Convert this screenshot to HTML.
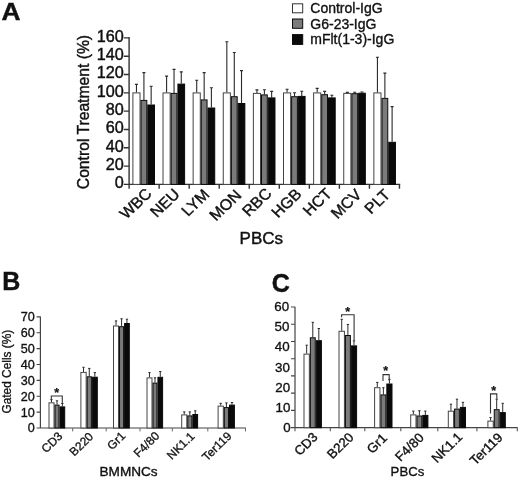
<!DOCTYPE html>
<html><head><meta charset="utf-8"><title>Figure</title>
<style>
html,body{margin:0;padding:0;background:#fff;}
svg{display:block;}
text{font-family:"Liberation Sans", Arial, Helvetica, sans-serif;fill:#111;}
</style></head>
<body>
<svg width="520" height="478" viewBox="0 0 520 478">
<rect width="520" height="478" fill="#fff"/>
<text transform="translate(1.60 20.40) scale(1.07 1)" font-size="24.6" text-anchor="start" font-weight="bold" stroke="#111" stroke-width="0.44">A</text>
<text transform="translate(2.20 289.60)" font-size="25" text-anchor="start" font-weight="bold" stroke="#111" stroke-width="0.45">B</text>
<text transform="translate(271.70 291.80)" font-size="25" text-anchor="start" font-weight="bold" stroke="#111" stroke-width="0.45">C</text>
<path d="M129.1 37.1V184.4H400.3M129.1 184.40h-5.4M129.1 166.09h-5.4M129.1 147.78h-5.4M129.1 129.47h-5.4M129.1 111.16h-5.4M129.1 92.85h-5.4M129.1 74.54h-5.4M129.1 56.23h-5.4M129.1 37.92h-5.4M129.10 184.4v4.4M159.14 184.4v4.4M189.18 184.4v4.4M219.22 184.4v4.4M249.26 184.4v4.4M279.30 184.4v4.4M309.34 184.4v4.4M339.38 184.4v4.4M369.42 184.4v4.4M399.46 184.4v4.4" stroke="#333" stroke-width="1.4" fill="none"/>
<text transform="translate(123.80 188.30) scale(1.04 1)" font-size="15.6" text-anchor="end" stroke="#111" stroke-width="0.41">0</text>
<text transform="translate(123.80 169.99) scale(1.04 1)" font-size="15.6" text-anchor="end" stroke="#111" stroke-width="0.41">20</text>
<text transform="translate(123.80 151.68) scale(1.04 1)" font-size="15.6" text-anchor="end" stroke="#111" stroke-width="0.41">40</text>
<text transform="translate(123.80 133.37) scale(1.04 1)" font-size="15.6" text-anchor="end" stroke="#111" stroke-width="0.41">60</text>
<text transform="translate(123.80 115.06) scale(1.04 1)" font-size="15.6" text-anchor="end" stroke="#111" stroke-width="0.41">80</text>
<text transform="translate(123.80 96.75) scale(1.04 1)" font-size="15.6" text-anchor="end" stroke="#111" stroke-width="0.41">100</text>
<text transform="translate(123.80 78.44) scale(1.04 1)" font-size="15.6" text-anchor="end" stroke="#111" stroke-width="0.41">120</text>
<text transform="translate(123.80 60.13) scale(1.04 1)" font-size="15.6" text-anchor="end" stroke="#111" stroke-width="0.41">140</text>
<text transform="translate(123.80 41.82) scale(1.04 1)" font-size="15.6" text-anchor="end" stroke="#111" stroke-width="0.41">160</text>
<text transform="translate(88.50 189.20) scale(1.03 1) rotate(-90)" font-size="15.7" text-anchor="start" stroke="#111" stroke-width="0.41">Control Treatment (%)</text>
<path d="M136.47 92.40V84.40M134.97 84.40H137.97" stroke="#2a2a2a" stroke-width="1.1" fill="none"/><rect x="132.90" y="92.90" width="7.13" height="91.50" fill="#fff" stroke="#444" stroke-width="1.0"/>
<path d="M143.92 99.90V72.60M142.42 72.60H145.42" stroke="#2a2a2a" stroke-width="1.1" fill="none"/><rect x="141.03" y="100.40" width="5.78" height="84.00" fill="#7b7b7b" stroke="#0a0a0a" stroke-width="1.0"/>
<path d="M151.15 104.50V86.20M149.65 86.20H152.65" stroke="#2a2a2a" stroke-width="1.1" fill="none"/><rect x="147.81" y="105.00" width="6.68" height="79.40" fill="#0a0a0a" stroke="#0a0a0a" stroke-width="1.0"/>
<text transform="translate(152.80 194.60) scale(1.05 1) rotate(-45)" font-size="15.3" text-anchor="end" stroke="#111" stroke-width="0.40">WBC</text>
<path d="M166.59 92.40V76.10M165.09 76.10H168.09" stroke="#2a2a2a" stroke-width="1.1" fill="none"/><rect x="163.02" y="92.90" width="7.13" height="91.50" fill="#fff" stroke="#444" stroke-width="1.0"/>
<path d="M174.04 92.90V69.40M172.54 69.40H175.54" stroke="#2a2a2a" stroke-width="1.1" fill="none"/><rect x="171.15" y="93.40" width="5.78" height="91.00" fill="#7b7b7b" stroke="#0a0a0a" stroke-width="1.0"/>
<path d="M181.27 83.60V71.90M179.77 71.90H182.77" stroke="#2a2a2a" stroke-width="1.1" fill="none"/><rect x="177.93" y="84.10" width="6.68" height="100.30" fill="#0a0a0a" stroke="#0a0a0a" stroke-width="1.0"/>
<text transform="translate(180.80 195.20) scale(1.05 1) rotate(-45)" font-size="15.3" text-anchor="end" stroke="#111" stroke-width="0.40">NEU</text>
<path d="M196.71 92.40V80.20M195.21 80.20H198.21" stroke="#2a2a2a" stroke-width="1.1" fill="none"/><rect x="193.14" y="92.90" width="7.13" height="91.50" fill="#fff" stroke="#444" stroke-width="1.0"/>
<path d="M204.16 99.40V72.60M202.66 72.60H205.66" stroke="#2a2a2a" stroke-width="1.1" fill="none"/><rect x="201.27" y="99.90" width="5.78" height="84.50" fill="#7b7b7b" stroke="#0a0a0a" stroke-width="1.0"/>
<path d="M211.39 107.50V87.70M209.89 87.70H212.89" stroke="#2a2a2a" stroke-width="1.1" fill="none"/><rect x="208.05" y="108.00" width="6.68" height="76.40" fill="#0a0a0a" stroke="#0a0a0a" stroke-width="1.0"/>
<text transform="translate(210.50 195.50) scale(1.05 1) rotate(-45)" font-size="15.3" text-anchor="end" stroke="#111" stroke-width="0.40">LYM</text>
<path d="M226.83 92.40V41.70M225.33 41.70H228.33" stroke="#2a2a2a" stroke-width="1.1" fill="none"/><rect x="223.26" y="92.90" width="7.13" height="91.50" fill="#fff" stroke="#444" stroke-width="1.0"/>
<path d="M234.28 96.20V52.50M232.78 52.50H235.78" stroke="#2a2a2a" stroke-width="1.1" fill="none"/><rect x="231.39" y="96.70" width="5.78" height="87.70" fill="#7b7b7b" stroke="#0a0a0a" stroke-width="1.0"/>
<path d="M241.51 103.00V70.60M240.01 70.60H243.01" stroke="#2a2a2a" stroke-width="1.1" fill="none"/><rect x="238.17" y="103.50" width="6.68" height="80.90" fill="#0a0a0a" stroke="#0a0a0a" stroke-width="1.0"/>
<text transform="translate(242.50 196.20) scale(1.05 1) rotate(-45)" font-size="15.3" text-anchor="end" stroke="#111" stroke-width="0.40">MON</text>
<path d="M256.95 92.90V89.90M255.45 89.90H258.45" stroke="#2a2a2a" stroke-width="1.1" fill="none"/><rect x="253.38" y="93.40" width="7.13" height="91.00" fill="#fff" stroke="#444" stroke-width="1.0"/>
<path d="M264.40 94.40V89.70M262.90 89.70H265.90" stroke="#2a2a2a" stroke-width="1.1" fill="none"/><rect x="261.51" y="94.90" width="5.78" height="89.50" fill="#7b7b7b" stroke="#0a0a0a" stroke-width="1.0"/>
<path d="M271.63 97.40V91.40M270.13 91.40H273.13" stroke="#2a2a2a" stroke-width="1.1" fill="none"/><rect x="268.29" y="97.90" width="6.68" height="86.50" fill="#0a0a0a" stroke="#0a0a0a" stroke-width="1.0"/>
<text transform="translate(272.60 194.50) scale(1.05 1) rotate(-45)" font-size="15.3" text-anchor="end" stroke="#111" stroke-width="0.40">RBC</text>
<path d="M287.07 92.40V89.20M285.57 89.20H288.57" stroke="#2a2a2a" stroke-width="1.1" fill="none"/><rect x="283.50" y="92.90" width="7.13" height="91.50" fill="#fff" stroke="#444" stroke-width="1.0"/>
<path d="M294.52 96.20V92.70M293.02 92.70H296.02" stroke="#2a2a2a" stroke-width="1.1" fill="none"/><rect x="291.63" y="96.70" width="5.78" height="87.70" fill="#7b7b7b" stroke="#0a0a0a" stroke-width="1.0"/>
<path d="M301.75 95.90V91.20M300.25 91.20H303.25" stroke="#2a2a2a" stroke-width="1.1" fill="none"/><rect x="298.41" y="96.40" width="6.68" height="88.00" fill="#0a0a0a" stroke="#0a0a0a" stroke-width="1.0"/>
<text transform="translate(302.70 195.10) scale(1.05 1) rotate(-45)" font-size="15.3" text-anchor="end" stroke="#111" stroke-width="0.40">HGB</text>
<path d="M317.19 92.40V88.40M315.69 88.40H318.69" stroke="#2a2a2a" stroke-width="1.1" fill="none"/><rect x="313.62" y="92.90" width="7.13" height="91.50" fill="#fff" stroke="#444" stroke-width="1.0"/>
<path d="M324.64 94.20V91.40M323.14 91.40H326.14" stroke="#2a2a2a" stroke-width="1.1" fill="none"/><rect x="321.75" y="94.70" width="5.78" height="89.70" fill="#7b7b7b" stroke="#0a0a0a" stroke-width="1.0"/>
<path d="M331.87 97.40V95.20M330.37 95.20H333.37" stroke="#2a2a2a" stroke-width="1.1" fill="none"/><rect x="328.53" y="97.90" width="6.68" height="86.50" fill="#0a0a0a" stroke="#0a0a0a" stroke-width="1.0"/>
<text transform="translate(332.90 194.60) scale(1.05 1) rotate(-45)" font-size="15.3" text-anchor="end" stroke="#111" stroke-width="0.40">HCT</text>
<path d="M347.31 92.90V92.40M345.81 92.40H348.81" stroke="#2a2a2a" stroke-width="1.1" fill="none"/><rect x="343.74" y="93.40" width="7.13" height="91.00" fill="#fff" stroke="#444" stroke-width="1.0"/>
<path d="M354.76 93.20V92.20M353.26 92.20H356.26" stroke="#2a2a2a" stroke-width="1.1" fill="none"/><rect x="351.87" y="93.70" width="5.78" height="90.70" fill="#7b7b7b" stroke="#0a0a0a" stroke-width="1.0"/>
<path d="M361.99 92.70V92.00M360.49 92.00H363.49" stroke="#2a2a2a" stroke-width="1.1" fill="none"/><rect x="358.65" y="93.20" width="6.68" height="91.20" fill="#0a0a0a" stroke="#0a0a0a" stroke-width="1.0"/>
<text transform="translate(362.60 195.50) scale(1.05 1) rotate(-45)" font-size="15.3" text-anchor="end" stroke="#111" stroke-width="0.40">MCV</text>
<path d="M377.43 92.40V57.30M375.93 57.30H378.93" stroke="#2a2a2a" stroke-width="1.1" fill="none"/><rect x="373.86" y="92.90" width="7.13" height="91.50" fill="#fff" stroke="#444" stroke-width="1.0"/>
<path d="M384.88 97.90V73.10M383.38 73.10H386.38" stroke="#2a2a2a" stroke-width="1.1" fill="none"/><rect x="381.99" y="98.40" width="5.78" height="86.00" fill="#7b7b7b" stroke="#0a0a0a" stroke-width="1.0"/>
<path d="M392.11 141.80V106.60M390.61 106.60H393.61" stroke="#2a2a2a" stroke-width="1.1" fill="none"/><rect x="388.77" y="142.30" width="6.68" height="42.10" fill="#0a0a0a" stroke="#0a0a0a" stroke-width="1.0"/>
<text transform="translate(391.10 195.70) scale(1.05 1) rotate(-45)" font-size="15.3" text-anchor="end" stroke="#111" stroke-width="0.40">PLT</text>
<text transform="translate(239.60 244.00) scale(1.05 1)" font-size="16.2" text-anchor="start" stroke="#111" stroke-width="0.42">PBCs</text>
<rect x="292.5" y="3.80" width="10.2" height="9.00" fill="#fff" stroke="#333" stroke-width="1"/>
<text transform="translate(310.30 12.90)" font-size="14.0" text-anchor="start" stroke="#111" stroke-width="0.36">Control-IgG</text>
<rect x="292.5" y="19.00" width="10.2" height="9.30" fill="#7b7b7b" stroke="#0a0a0a" stroke-width="1"/>
<text transform="translate(310.30 28.70)" font-size="14.0" text-anchor="start" stroke="#111" stroke-width="0.36">G6-23-IgG</text>
<rect x="292.5" y="34.60" width="10.2" height="9.80" fill="#0a0a0a" stroke="#0a0a0a" stroke-width="1"/>
<text transform="translate(310.30 43.90)" font-size="14.0" text-anchor="start" stroke="#111" stroke-width="0.36">mFlt(1-3)-IgG</text>
<path d="M40.4 316.59999999999997V428.0H245.9M40.4 428.00h-3.8M40.4 412.13h-3.8M40.4 396.26h-3.8M40.4 380.39h-3.8M40.4 364.51h-3.8M40.4 348.64h-3.8M40.4 332.77h-3.8M40.4 316.90h-3.8" stroke="#444" stroke-width="1.2" fill="none"/>
<path d="M72.70 428.0v3.4M106.20 428.0v3.4M140.00 428.0v3.4M172.30 428.0v3.4M207.80 428.0v3.4M245.50 428.0v3.4" stroke="#666" stroke-width="1" fill="none"/>
<text transform="translate(34.80 432.40)" font-size="12.6" text-anchor="end" stroke="#111" stroke-width="0.33">0</text>
<text transform="translate(34.80 416.53)" font-size="12.6" text-anchor="end" stroke="#111" stroke-width="0.33">10</text>
<text transform="translate(34.80 400.66)" font-size="12.6" text-anchor="end" stroke="#111" stroke-width="0.33">20</text>
<text transform="translate(34.80 384.79)" font-size="12.6" text-anchor="end" stroke="#111" stroke-width="0.33">30</text>
<text transform="translate(34.80 368.91)" font-size="12.6" text-anchor="end" stroke="#111" stroke-width="0.33">40</text>
<text transform="translate(34.80 353.04)" font-size="12.6" text-anchor="end" stroke="#111" stroke-width="0.33">50</text>
<text transform="translate(34.80 337.17)" font-size="12.6" text-anchor="end" stroke="#111" stroke-width="0.33">60</text>
<text transform="translate(34.80 321.30)" font-size="12.6" text-anchor="end" stroke="#111" stroke-width="0.33">70</text>
<text transform="translate(10.80 413.60) rotate(-90)" font-size="11.9" text-anchor="start" stroke="#111" stroke-width="0.31">Gated Cells (%)</text>
<path d="M51.51 402.30V399.70M50.36 399.70H52.66" stroke="#2a2a2a" stroke-width="1.0" fill="none"/><rect x="49.00" y="402.80" width="5.01" height="25.20" fill="#fff" stroke="#444" stroke-width="1.0"/>
<path d="M57.02 404.60V400.80M55.87 400.80H58.17" stroke="#2a2a2a" stroke-width="1.0" fill="none"/><rect x="55.01" y="405.10" width="4.01" height="22.90" fill="#7b7b7b" stroke="#0a0a0a" stroke-width="1.0"/>
<path d="M62.36 406.40V403.50M61.21 403.50H63.51" stroke="#2a2a2a" stroke-width="1.0" fill="none"/><rect x="60.02" y="406.90" width="4.68" height="21.10" fill="#0a0a0a" stroke="#0a0a0a" stroke-width="1.0"/>
<text transform="translate(63.30 436.80) scale(1.02 1) rotate(-45)" font-size="11.8" text-anchor="end" stroke="#111" stroke-width="0.31">CD3</text>
<path d="M83.53 371.90V367.30M82.38 367.30H84.68" stroke="#2a2a2a" stroke-width="1.0" fill="none"/><rect x="80.90" y="372.40" width="5.26" height="55.60" fill="#fff" stroke="#444" stroke-width="1.0"/>
<path d="M89.27 376.30V368.40M88.12 368.40H90.42" stroke="#2a2a2a" stroke-width="1.0" fill="none"/><rect x="87.16" y="376.80" width="4.22" height="51.20" fill="#7b7b7b" stroke="#0a0a0a" stroke-width="1.0"/>
<path d="M94.84 376.70V372.60M93.69 372.60H95.99" stroke="#2a2a2a" stroke-width="1.0" fill="none"/><rect x="92.38" y="377.20" width="4.92" height="50.80" fill="#0a0a0a" stroke="#0a0a0a" stroke-width="1.0"/>
<text transform="translate(94.10 437.30) scale(1.02 1) rotate(-45)" font-size="11.8" text-anchor="end" stroke="#111" stroke-width="0.31">B220</text>
<path d="M116.02 325.50V320.90M114.87 320.90H117.17" stroke="#2a2a2a" stroke-width="1.0" fill="none"/><rect x="113.50" y="326.00" width="5.05" height="102.00" fill="#fff" stroke="#444" stroke-width="1.0"/>
<path d="M121.57 326.20V318.80M120.42 318.80H122.72" stroke="#2a2a2a" stroke-width="1.0" fill="none"/><rect x="119.55" y="326.70" width="4.04" height="101.30" fill="#7b7b7b" stroke="#0a0a0a" stroke-width="1.0"/>
<path d="M126.94 323.00V319.20M125.79 319.20H128.09" stroke="#2a2a2a" stroke-width="1.0" fill="none"/><rect x="124.59" y="323.50" width="4.71" height="104.50" fill="#0a0a0a" stroke="#0a0a0a" stroke-width="1.0"/>
<text transform="translate(126.30 436.70) scale(1.02 1) rotate(-45)" font-size="11.8" text-anchor="end" stroke="#111" stroke-width="0.31">Gr1</text>
<path d="M149.49 377.40V372.60M148.34 372.60H150.64" stroke="#2a2a2a" stroke-width="1.0" fill="none"/><rect x="147.00" y="377.90" width="4.98" height="50.10" fill="#fff" stroke="#444" stroke-width="1.0"/>
<path d="M154.97 382.60V377.80M153.82 377.80H156.12" stroke="#2a2a2a" stroke-width="1.0" fill="none"/><rect x="152.98" y="383.10" width="3.98" height="44.90" fill="#7b7b7b" stroke="#0a0a0a" stroke-width="1.0"/>
<path d="M160.28 376.80V371.50M159.13 371.50H161.43" stroke="#2a2a2a" stroke-width="1.0" fill="none"/><rect x="157.96" y="377.30" width="4.64" height="50.70" fill="#0a0a0a" stroke="#0a0a0a" stroke-width="1.0"/>
<text transform="translate(160.30 436.70) scale(1.02 1) rotate(-45)" font-size="11.8" text-anchor="end" stroke="#111" stroke-width="0.31">F4/80</text>
<path d="M184.24 414.40V411.90M183.09 411.90H185.39" stroke="#2a2a2a" stroke-width="1.0" fill="none"/><rect x="181.70" y="414.90" width="5.08" height="13.10" fill="#fff" stroke="#444" stroke-width="1.0"/>
<path d="M189.82 415.40V411.90M188.67 411.90H190.97" stroke="#2a2a2a" stroke-width="1.0" fill="none"/><rect x="187.78" y="415.90" width="4.07" height="12.10" fill="#7b7b7b" stroke="#0a0a0a" stroke-width="1.0"/>
<path d="M195.23 414.00V410.80M194.08 410.80H196.38" stroke="#2a2a2a" stroke-width="1.0" fill="none"/><rect x="192.85" y="414.50" width="4.75" height="13.50" fill="#0a0a0a" stroke="#0a0a0a" stroke-width="1.0"/>
<text transform="translate(195.40 437.00) scale(1.02 1) rotate(-45)" font-size="11.8" text-anchor="end" stroke="#111" stroke-width="0.31">NK1.1</text>
<path d="M220.71 405.60V403.30M219.56 403.30H221.86" stroke="#2a2a2a" stroke-width="1.0" fill="none"/><rect x="218.10" y="406.10" width="5.23" height="21.90" fill="#fff" stroke="#444" stroke-width="1.0"/>
<path d="M226.42 407.10V402.90M225.27 402.90H227.57" stroke="#2a2a2a" stroke-width="1.0" fill="none"/><rect x="224.33" y="407.60" width="4.19" height="20.40" fill="#7b7b7b" stroke="#0a0a0a" stroke-width="1.0"/>
<path d="M231.96 404.60V402.50M230.81 402.50H233.11" stroke="#2a2a2a" stroke-width="1.0" fill="none"/><rect x="229.52" y="405.10" width="4.88" height="22.90" fill="#0a0a0a" stroke="#0a0a0a" stroke-width="1.0"/>
<text transform="translate(232.40 436.80) scale(1.02 1) rotate(-45)" font-size="11.8" text-anchor="end" stroke="#111" stroke-width="0.31">Ter119</text>
<text transform="translate(99.50 476.20)" font-size="13.6" text-anchor="start" stroke="#111" stroke-width="0.35">BMMNCs</text>
<path d="M51.3 400.2V396H62.3V403" stroke="#333" stroke-width="1.1" fill="none"/>
<text transform="translate(56.60 396.90)" font-size="12.5" text-anchor="middle" font-weight="bold" stroke="#111" stroke-width="0.22">*</text>
<path d="M295.0 306.7V427.7H517.6999999999999M295.0 427.70h-4.0M295.0 410.46h-4.0M295.0 393.21h-4.0M295.0 375.97h-4.0M295.0 358.73h-4.0M295.0 341.49h-4.0M295.0 324.24h-4.0M295.0 307.00h-4.0" stroke="#444" stroke-width="1.2" fill="none"/>
<path d="M295.00 427.7v3.6M330.30 427.7v3.6M364.80 427.7v3.6M400.80 427.7v3.6M437.80 427.7v3.6M476.90 427.7v3.6M517.30 427.7v3.6" stroke="#555" stroke-width="1.1" fill="none"/>
<text transform="translate(290.70 432.20) scale(1.02 1)" font-size="13.1" text-anchor="end" stroke="#111" stroke-width="0.34">0</text>
<text transform="translate(290.44 411.97) scale(1.02 1)" font-size="13.1" text-anchor="end" stroke="#111" stroke-width="0.34">10</text>
<text transform="translate(290.18 391.74) scale(1.02 1)" font-size="13.1" text-anchor="end" stroke="#111" stroke-width="0.34">20</text>
<text transform="translate(289.92 371.51) scale(1.02 1)" font-size="13.1" text-anchor="end" stroke="#111" stroke-width="0.34">30</text>
<text transform="translate(289.66 351.28) scale(1.02 1)" font-size="13.1" text-anchor="end" stroke="#111" stroke-width="0.34">40</text>
<text transform="translate(289.40 331.05) scale(1.02 1)" font-size="13.1" text-anchor="end" stroke="#111" stroke-width="0.34">50</text>
<text transform="translate(289.14 310.82) scale(1.02 1)" font-size="13.1" text-anchor="end" stroke="#111" stroke-width="0.34">60</text>
<path d="M306.67 353.60V345.20M305.52 345.20H307.82" stroke="#2a2a2a" stroke-width="1.0" fill="none"/><rect x="304.00" y="354.10" width="5.35" height="73.60" fill="#fff" stroke="#444" stroke-width="1.0"/>
<path d="M312.79 337.30V322.30M311.64 322.30H313.94" stroke="#2a2a2a" stroke-width="1.0" fill="none"/><rect x="310.35" y="337.80" width="4.89" height="89.90" fill="#7b7b7b" stroke="#0a0a0a" stroke-width="1.0"/>
<path d="M318.82 340.20V328.50M317.67 328.50H319.97" stroke="#2a2a2a" stroke-width="1.0" fill="none"/><rect x="316.24" y="340.70" width="5.16" height="87.00" fill="#0a0a0a" stroke="#0a0a0a" stroke-width="1.0"/>
<text transform="translate(318.60 437.90) scale(1.03 1) rotate(-45)" font-size="13.0" text-anchor="end" stroke="#111" stroke-width="0.34">CD3</text>
<path d="M341.71 330.80V319.30M340.56 319.30H342.86" stroke="#2a2a2a" stroke-width="1.0" fill="none"/><rect x="339.00" y="331.30" width="5.42" height="96.40" fill="#fff" stroke="#444" stroke-width="1.0"/>
<path d="M347.89 335.00V324.50M346.74 324.50H349.04" stroke="#2a2a2a" stroke-width="1.0" fill="none"/><rect x="345.42" y="335.50" width="4.95" height="92.20" fill="#7b7b7b" stroke="#0a0a0a" stroke-width="1.0"/>
<path d="M353.98 345.40V340.80M352.83 340.80H355.13" stroke="#2a2a2a" stroke-width="1.0" fill="none"/><rect x="351.37" y="345.90" width="5.23" height="81.80" fill="#0a0a0a" stroke="#0a0a0a" stroke-width="1.0"/>
<text transform="translate(354.60 438.10) scale(1.03 1) rotate(-45)" font-size="13.0" text-anchor="end" stroke="#111" stroke-width="0.34">B220</text>
<path d="M377.27 387.20V382.40M376.12 382.40H378.42" stroke="#2a2a2a" stroke-width="1.0" fill="none"/><rect x="374.60" y="387.70" width="5.35" height="40.00" fill="#fff" stroke="#444" stroke-width="1.0"/>
<path d="M383.39 394.40V387.70M382.24 387.70H384.54" stroke="#2a2a2a" stroke-width="1.0" fill="none"/><rect x="380.95" y="394.90" width="4.89" height="32.80" fill="#7b7b7b" stroke="#0a0a0a" stroke-width="1.0"/>
<path d="M389.42 383.50V379.30M388.27 379.30H390.57" stroke="#2a2a2a" stroke-width="1.0" fill="none"/><rect x="386.84" y="384.00" width="5.16" height="43.70" fill="#0a0a0a" stroke="#0a0a0a" stroke-width="1.0"/>
<text transform="translate(388.00 438.90) scale(1.03 1) rotate(-45)" font-size="13.0" text-anchor="end" stroke="#111" stroke-width="0.34">Gr1</text>
<path d="M413.34 414.40V411.10M412.19 411.10H414.49" stroke="#2a2a2a" stroke-width="1.0" fill="none"/><rect x="410.70" y="414.90" width="5.28" height="12.80" fill="#fff" stroke="#444" stroke-width="1.0"/>
<path d="M419.39 415.50V410.70M418.24 410.70H420.54" stroke="#2a2a2a" stroke-width="1.0" fill="none"/><rect x="416.98" y="416.00" width="4.82" height="11.70" fill="#7b7b7b" stroke="#0a0a0a" stroke-width="1.0"/>
<path d="M425.35 414.90V411.10M424.20 411.10H426.50" stroke="#2a2a2a" stroke-width="1.0" fill="none"/><rect x="422.80" y="415.40" width="5.10" height="12.30" fill="#0a0a0a" stroke="#0a0a0a" stroke-width="1.0"/>
<text transform="translate(424.70 438.50) scale(1.03 1) rotate(-45)" font-size="13.0" text-anchor="end" stroke="#111" stroke-width="0.34">F4/80</text>
<path d="M450.94 410.70V404.20M449.79 404.20H452.09" stroke="#2a2a2a" stroke-width="1.0" fill="none"/><rect x="448.30" y="411.20" width="5.28" height="16.50" fill="#fff" stroke="#444" stroke-width="1.0"/>
<path d="M456.99 408.60V399.20M455.84 399.20H458.14" stroke="#2a2a2a" stroke-width="1.0" fill="none"/><rect x="454.58" y="409.10" width="4.82" height="18.60" fill="#7b7b7b" stroke="#0a0a0a" stroke-width="1.0"/>
<path d="M462.95 406.90V402.30M461.80 402.30H464.10" stroke="#2a2a2a" stroke-width="1.0" fill="none"/><rect x="460.40" y="407.40" width="5.10" height="20.30" fill="#0a0a0a" stroke="#0a0a0a" stroke-width="1.0"/>
<text transform="translate(463.30 437.90) scale(1.03 1) rotate(-45)" font-size="13.0" text-anchor="end" stroke="#111" stroke-width="0.34">NK1.1</text>
<path d="M490.57 420.60V417.60M489.42 417.60H491.72" stroke="#2a2a2a" stroke-width="1.0" fill="none"/><rect x="487.90" y="421.10" width="5.35" height="6.60" fill="#fff" stroke="#444" stroke-width="1.0"/>
<path d="M496.69 409.20V399.20M495.54 399.20H497.84" stroke="#2a2a2a" stroke-width="1.0" fill="none"/><rect x="494.25" y="409.70" width="4.89" height="18.00" fill="#7b7b7b" stroke="#0a0a0a" stroke-width="1.0"/>
<path d="M502.72 412.10V403.30M501.57 403.30H503.87" stroke="#2a2a2a" stroke-width="1.0" fill="none"/><rect x="500.14" y="412.60" width="5.16" height="15.10" fill="#0a0a0a" stroke="#0a0a0a" stroke-width="1.0"/>
<text transform="translate(503.60 438.40) scale(1.03 1) rotate(-45)" font-size="13.0" text-anchor="end" stroke="#111" stroke-width="0.34">Ter119</text>
<text transform="translate(390.60 475.60)" font-size="13.2" text-anchor="start" stroke="#111" stroke-width="0.34">PBCs</text>
<path d="M341.6 317.3V314.7H354.1V340.2" stroke="#333" stroke-width="1.1" fill="none"/>
<text transform="translate(347.60 315.60)" font-size="12.5" text-anchor="middle" font-weight="bold" stroke="#111" stroke-width="0.22">*</text>
<path d="M383 381V374.6H389.2V380.5" stroke="#333" stroke-width="1.1" fill="none"/>
<text transform="translate(385.80 375.40)" font-size="12.5" text-anchor="middle" font-weight="bold" stroke="#111" stroke-width="0.22">*</text>
<path d="M490.5 413.6V393.9H496.8V398.8" stroke="#333" stroke-width="1.1" fill="none"/>
<text transform="translate(493.60 394.90)" font-size="12.5" text-anchor="middle" font-weight="bold" stroke="#111" stroke-width="0.22">*</text>
</svg>
</body></html>
